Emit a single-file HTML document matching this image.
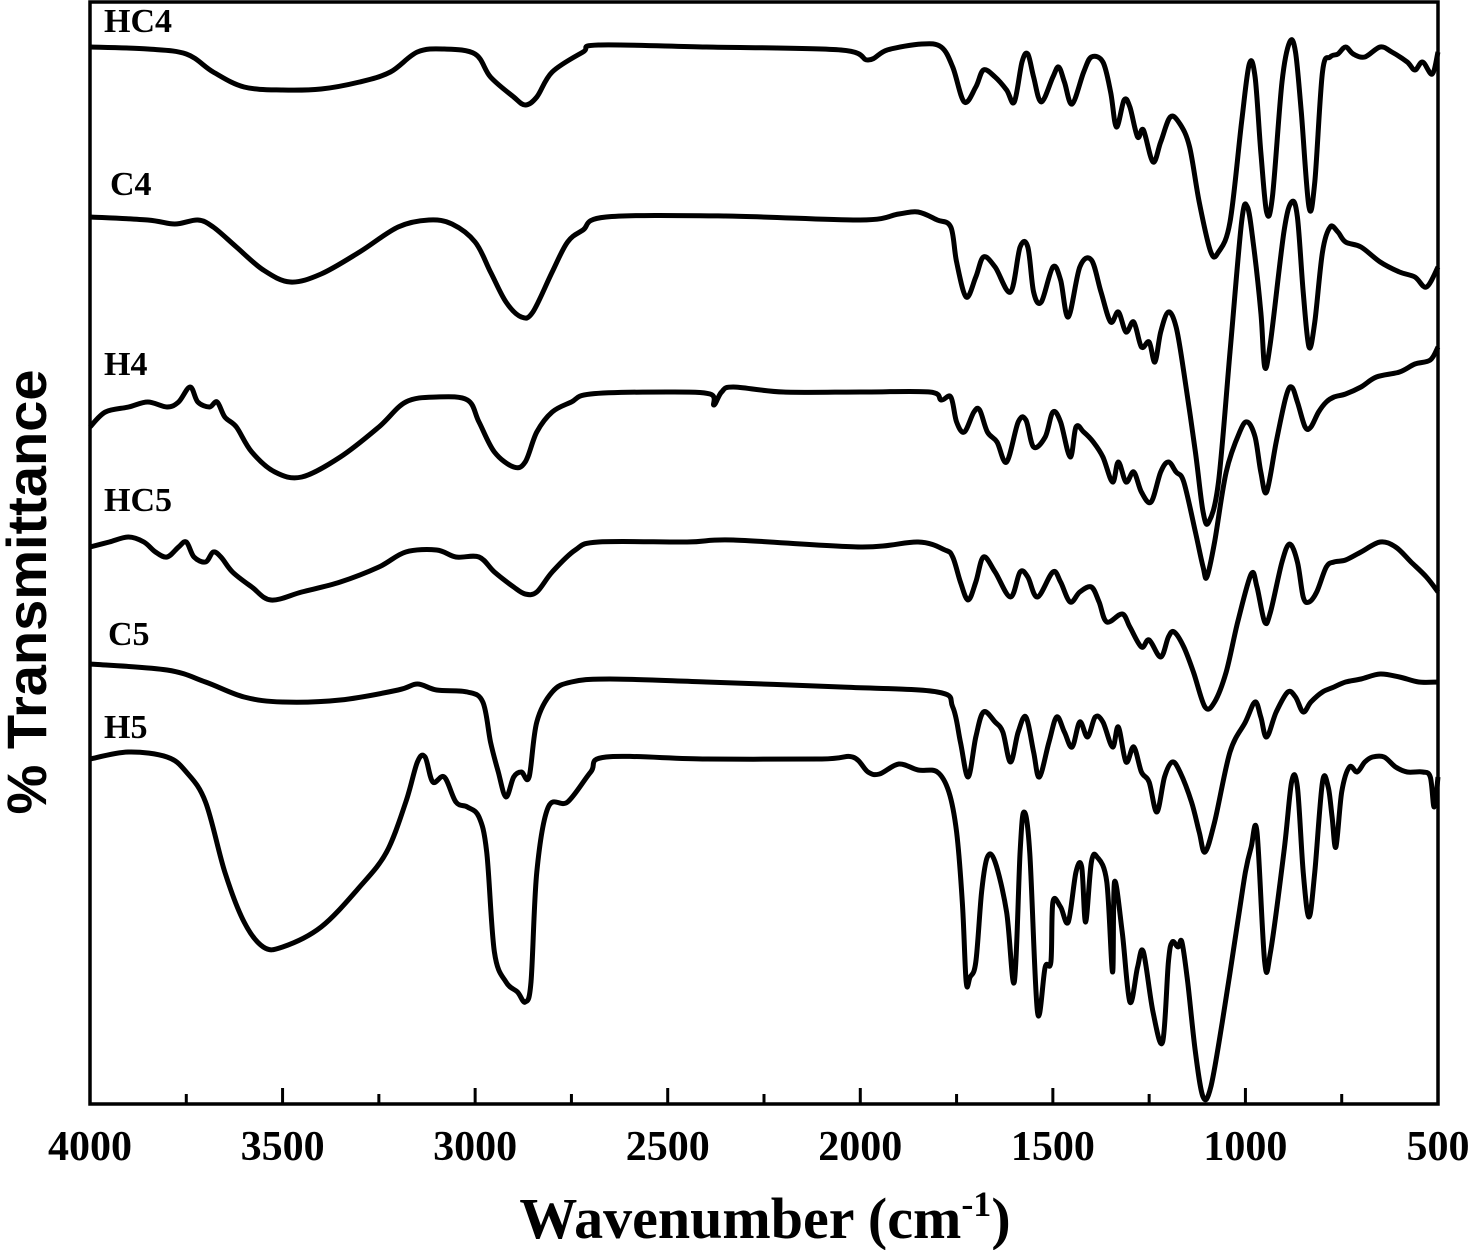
<!DOCTYPE html>
<html><head><meta charset="utf-8"><style>
html,body{margin:0;padding:0;background:#fff;}
svg{display:block;}
</style></head><body>
<svg id="chart" width="1476" height="1250" viewBox="0 0 1476 1250" xmlns="http://www.w3.org/2000/svg">
<g id="curves"></g>
<rect x="90" y="2" width="1348" height="1102" fill="none" stroke="#000" stroke-width="3.5"/>
<g id="ticks"></g>
<g id="labels" font-family="'Liberation Serif',serif" font-weight="bold"></g>
<text x="765" y="1238" text-anchor="middle" font-family="'Liberation Serif',serif" font-weight="bold" font-size="58">Wavenumber (cm<tspan dy="-22" font-size="36">-1</tspan><tspan dy="22">)</tspan></text>
<text transform="translate(46,592) rotate(-90)" text-anchor="middle" font-family="'Liberation Sans',sans-serif" font-weight="bold" font-size="56">% Transmittance</text>
</svg>
<script>
const xTicks=[4000,3500,3000,2500,2000,1500,1000,500];
const xMinorTicks=[3750,3250,2750,2250,1750,1250,750];
const seriesNames=["HC4","C4","H4","HC5","C5","H5"];
// values: downward depth (arbitrary %T offset units, larger = lower on plot)
const hc4Wn=[4000,3850,3750,3680,3600,3500,3400,3300,3220,3150,3080,3000,2960,2900,2870,2840,2800,2720,2680,2400,2050,1980,1930,1840,1790,1760,1730,1700,1680,1650,1620,1600,1580,1565,1550,1530,1500,1485,1470,1450,1420,1400,1370,1350,1335,1315,1300,1280,1265,1240,1220,1195,1170,1145,1120,1090,1070,1040,1010,990,975,960,945,930,905,885,870,855,835,820,800,780,760,740,720,690,650,620,580,560,540,515,500];
const hc4T=[45,47,52,70,85,88,87,80,70,50,47,52,75,95,103,95,70,50,43,45,48,58,48,42,45,65,100,85,68,75,88,100,60,52,75,100,75,65,80,102,70,55,60,90,125,98,105,135,128,160,140,115,122,145,200,250,250,220,120,62,75,150,210,195,80,40,50,110,205,180,70,55,52,45,52,55,45,50,60,68,60,72,50];
const c4Wn=[4000,3850,3780,3720,3680,3620,3550,3480,3400,3300,3200,3120,3060,3000,2960,2920,2880,2850,2800,2760,2720,2660,2350,2000,1900,1850,1800,1765,1750,1725,1700,1680,1650,1610,1585,1565,1550,1530,1500,1480,1460,1430,1400,1375,1350,1330,1310,1290,1270,1250,1235,1220,1200,1180,1160,1130,1110,1095,1070,1040,1010,995,980,960,950,935,900,880,865,850,835,820,800,780,760,740,700,650,600,560,530,500];
const c4T=[215,218,222,218,225,245,268,280,272,250,225,218,222,240,270,300,315,310,270,240,228,215,214,218,212,210,218,225,260,295,275,255,265,290,245,245,290,300,265,278,315,265,258,290,320,310,330,320,345,340,360,330,310,325,370,450,510,520,480,350,220,205,240,310,365,340,230,200,215,290,345,320,250,225,230,240,245,260,270,275,285,265];
const h4Wn=[4000,3960,3900,3850,3800,3770,3740,3720,3690,3670,3650,3620,3580,3520,3450,3350,3250,3180,3100,3020,2990,2950,2900,2870,2840,2800,2750,2700,2500,2390,2380,2360,2330,2200,2000,1820,1790,1765,1750,1730,1705,1690,1670,1645,1620,1590,1570,1550,1520,1500,1480,1455,1440,1420,1395,1370,1345,1330,1310,1290,1270,1245,1220,1200,1180,1160,1130,1110,1100,1080,1050,1015,995,975,960,945,920,895,880,865,845,830,810,790,770,740,700,660,600,560,520,500];
const h4T=[425,410,405,400,405,400,385,400,405,400,415,425,450,470,475,455,425,400,395,398,420,450,465,460,430,410,400,392,390,392,403,390,385,390,390,390,398,395,420,430,410,408,430,440,460,420,418,445,435,410,420,455,425,430,440,455,480,460,480,470,490,500,470,460,470,480,530,565,575,540,470,430,420,435,470,490,440,395,385,400,425,425,410,400,395,392,385,375,370,362,358,345];
const hc5Wn=[4000,3950,3900,3860,3830,3800,3770,3750,3730,3700,3680,3660,3630,3580,3530,3450,3350,3250,3180,3100,3050,2990,2950,2900,2870,2840,2800,2740,2680,2450,2330,2000,1850,1780,1760,1740,1720,1700,1680,1650,1610,1585,1565,1540,1500,1480,1455,1430,1400,1380,1360,1320,1300,1270,1250,1220,1200,1185,1160,1135,1105,1080,1050,1020,985,970,950,935,905,885,865,850,835,815,790,770,740,700,650,610,570,530,500];
const hc5T=[545,540,535,540,550,555,545,540,555,560,550,555,570,585,598,590,580,565,550,548,555,555,570,585,592,590,570,548,540,540,538,545,540,548,555,580,598,580,555,570,595,570,575,595,570,580,600,590,585,600,620,612,625,645,638,655,635,630,645,670,705,700,670,620,572,585,620,610,560,542,560,595,600,590,565,560,558,550,540,545,560,575,590];
const c5Wn=[4000,3800,3700,3600,3500,3350,3200,3150,3100,3020,2980,2960,2940,2920,2900,2880,2860,2840,2800,2750,2650,2400,2050,1800,1760,1740,1720,1700,1680,1650,1630,1610,1590,1570,1550,1535,1510,1490,1470,1450,1430,1410,1390,1370,1345,1330,1310,1290,1270,1250,1230,1210,1190,1170,1140,1120,1105,1080,1040,1000,975,960,945,920,890,870,850,830,800,770,740,700,650,600,550,500];
const c5T=[662,668,680,695,700,698,688,682,688,690,700,740,770,795,775,770,775,720,690,680,677,680,685,690,705,740,775,735,710,720,730,760,730,715,750,775,740,715,730,745,720,735,715,720,745,725,760,745,770,780,810,775,760,770,800,830,850,820,750,720,700,715,735,710,690,695,710,700,690,685,680,677,672,675,680,680];
const h5Wn=[4000,3900,3800,3750,3700,3650,3600,3550,3500,3400,3300,3230,3180,3150,3130,3110,3080,3050,3020,2990,2970,2950,2920,2890,2870,2855,2840,2810,2760,2700,2660,2400,2100,2020,1980,1950,1900,1850,1800,1770,1750,1735,1725,1715,1700,1685,1670,1650,1620,1600,1585,1575,1560,1540,1520,1505,1500,1480,1460,1440,1425,1415,1400,1385,1360,1345,1340,1320,1300,1280,1265,1240,1215,1200,1190,1175,1165,1150,1130,1110,1090,1060,1020,1000,985,970,950,935,900,880,865,850,835,820,800,785,775,765,750,730,710,690,670,640,610,580,540,520,510,500];
const h5T=[757,750,755,770,800,870,920,945,945,925,885,850,800,760,755,780,775,800,805,815,850,950,980,990,1000,980,870,805,800,770,755,757,757,755,770,772,762,768,770,790,830,900,980,975,960,890,855,860,910,980,850,810,850,1010,965,960,900,905,920,870,865,920,860,855,880,970,880,930,1000,965,950,1010,1040,960,940,945,940,980,1050,1095,1085,1020,920,870,845,830,960,950,850,780,785,870,915,870,780,785,815,845,790,765,770,760,755,755,765,770,770,775,805,775];

const PL=90,PR=1438,PT=2;
function xScale(w){return PL+(4000-w)/3500*(PR-PL);}
function yScale(d){return PT+d;}
const NS="http://www.w3.org/2000/svg";
const curves=document.getElementById('curves');
const allWn=[hc4Wn,c4Wn,h4Wn,hc5Wn,c5Wn,h5Wn];
const allT=[hc4T,c4T,h4T,hc5T,c5T,h5T];
function smoothPath(pts){
  let d='M'+pts[0][0].toFixed(1)+','+pts[0][1].toFixed(1);
  for(let i=0;i<pts.length-1;i++){
    const p0=pts[Math.max(i-1,0)],p1=pts[i],p2=pts[i+1],p3=pts[Math.min(i+2,pts.length-1)];
    const c1x=p1[0]+(p2[0]-p0[0])/6,c1y=p1[1]+(p2[1]-p0[1])/6;
    const c2x=p2[0]-(p3[0]-p1[0])/6,c2y=p2[1]-(p3[1]-p1[1])/6;
    d+=' C'+c1x.toFixed(1)+','+c1y.toFixed(1)+' '+c2x.toFixed(1)+','+c2y.toFixed(1)+' '+p2[0].toFixed(1)+','+p2[1].toFixed(1);
  }
  return d;
}
allWn.forEach((wn,i)=>{
  const pts=wn.map((w,j)=>[xScale(w),yScale(allT[i][j])]);
  const p=document.createElementNS(NS,'path');
  p.setAttribute('d',smoothPath(pts));
  p.setAttribute('fill','none');p.setAttribute('stroke','#000');p.setAttribute('stroke-width','5');
  p.setAttribute('stroke-linejoin','round');
  
  
  curves.appendChild(p);
});
const ticks=document.getElementById('ticks');
xTicks.forEach(w=>{
  const l=document.createElementNS(NS,'line');
  l.setAttribute('x1',xScale(w));l.setAttribute('x2',xScale(w));l.setAttribute('y1',1104);l.setAttribute('y2',1088);
  l.setAttribute('stroke','#000');l.setAttribute('stroke-width','3');
  
  
  ticks.appendChild(l);
  const t=document.createElementNS(NS,'text');
  t.setAttribute('x',xScale(w));t.setAttribute('y',1160);t.setAttribute('text-anchor','middle');
  t.setAttribute('font-family',"'Liberation Serif',serif");t.setAttribute('font-weight','bold');t.setAttribute('font-size','42');
  t.textContent=w;
  
  
  ticks.appendChild(t);
});
xMinorTicks.forEach(w=>{
  const l=document.createElementNS(NS,'line');
  l.setAttribute('x1',xScale(w));l.setAttribute('x2',xScale(w));l.setAttribute('y1',1104);l.setAttribute('y2',1094);
  l.setAttribute('stroke','#000');l.setAttribute('stroke-width','3');
  
  
  ticks.appendChild(l);
});
const labelPos=[[104,32],[110,195],[104,375],[104,511],[108,645],[104,738]];
const labels=document.getElementById('labels');
seriesNames.forEach((n,i)=>{
  const t=document.createElementNS(NS,'text');
  t.setAttribute('x',labelPos[i][0]);t.setAttribute('y',labelPos[i][1]);t.setAttribute('font-size','34');
  t.textContent=n;
  
  
  labels.appendChild(t);
});
</script>
</body></html>
